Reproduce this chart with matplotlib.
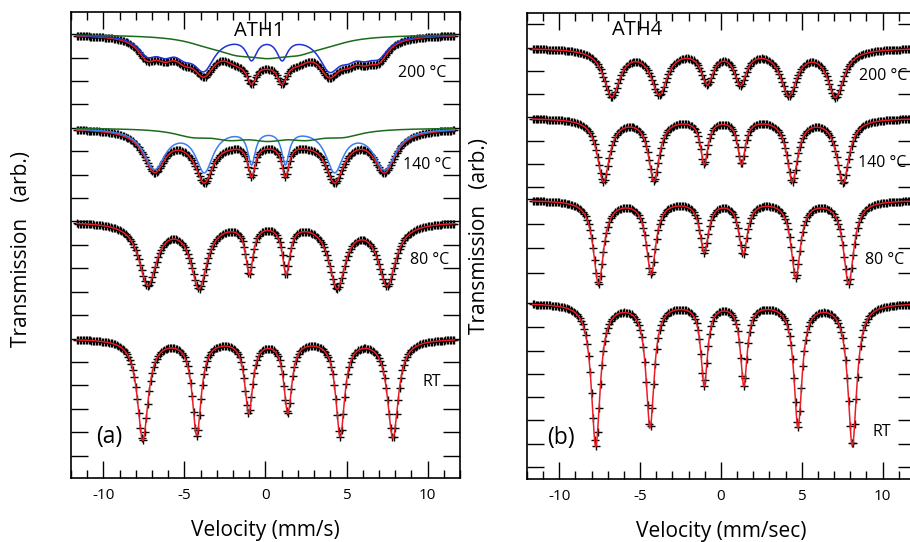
import numpy as np
import matplotlib
matplotlib.use('Agg')
import matplotlib.pyplot as plt
from matplotlib.ticker import MultipleLocator

plt.rcParams['font.family'] = ['Open Sans', 'DejaVu Sans']
plt.rcParams['axes.unicode_minus'] = False

# velocity channels (mm/s) and a finer grid for the fitted curves
vel = np.linspace(-11.65, 11.65, 256)
vel_fit = np.linspace(-11.65, 11.65, 1200)

# ---------------- ATH1 (panel a) ----------------
# 200 C : blue and green sub-spectra, red = total fit
a200_blue_pos = [-7.3, -6.2, -5.0, -3.8, -0.86, 1.03, 3.95, 5.1, 6.1, 7.0]
a200_blue_dep = [0.7, 0.55, 0.55, 1.35, 0.92, 0.92, 1.35, 0.55, 0.55, 0.7]
a200_blue_wid = [0.7, 0.7, 0.7, 0.8, 0.4, 0.4, 0.8, 0.7, 0.7, 0.7]
a200_green_pos = [-3.6, -1.8, 0.1, 2.0, 3.8]
a200_green_dep = [0.22, 0.5, 0.56, 0.5, 0.22]
a200_green_wid = [1.6, 1.6, 1.6, 1.6, 1.6]
a200_red_pos = [-7.3, -6.2, -5.0, -3.8, -1.8, -0.86, 0.1, 1.03, 2.0, 3.95, 5.1, 6.1, 7.0]
a200_red_dep = [0.8, 0.6, 0.6, 1.35, 0.7, 1.1, 0.7, 1.1, 0.7, 1.35, 0.6, 0.6, 0.8]
a200_red_wid = [0.7, 0.7, 0.7, 0.8, 1.0, 0.4, 1.0, 0.4, 1.0, 0.8, 0.7, 0.7, 0.7]

# 140 C : blue sextet + green broad component
a140_blue_pos = [-6.85, -3.77, -0.86, 1.23, 4.26, 7.35]
a140_blue_dep = [1.7, 1.78, 1.41, 1.41, 1.78, 1.72]
a140_blue_wid = [0.8, 0.65, 0.28, 0.28, 0.65, 0.8]
a140_green_pos = [-4.5, -2.2, 0.15, 2.5, 4.8]
a140_green_dep = [0.28, 0.34, 0.36, 0.34, 0.28]
a140_green_wid = [1.4, 1.4, 1.4, 1.4, 1.4]

# 80 C and RT : single sextets
a80_pos = [-7.26, -4.1, -0.99, 1.28, 4.42, 7.5]
a80_dep = [2.64, 2.73, 2.08, 2.08, 2.73, 2.64]
a80_wid = [0.65, 0.6, 0.28, 0.28, 0.6, 0.65]
aRT_pos = [-7.57, -4.24, -1.03, 1.38, 4.61, 7.86]
aRT_dep = [4.3, 4.05, 3.08, 3.08, 4.1, 4.2]
aRT_wid = [0.4, 0.33, 0.3, 0.3, 0.33, 0.4]

# ---------------- ATH4 (panel b) ----------------
b200_pos = [-6.75, -3.81, -0.84, 1.21, 4.2, 7.1]
b200_dep = [2.0, 1.88, 1.39, 1.42, 1.93, 2.02]
b200_wid = [0.6, 0.6, 0.45, 0.45, 0.6, 0.6]
b140_pos = [-7.26, -4.14, -1.03, 1.28, 4.42, 7.55]
b140_dep = [2.68, 2.61, 1.88, 1.88, 2.65, 2.74]
b140_wid = [0.45, 0.4, 0.28, 0.28, 0.4, 0.45]
b80_pos = [-7.57, -4.32, -1.03, 1.38, 4.63, 7.9]
b80_dep = [3.55, 3.1, 2.15, 2.22, 3.25, 3.55]
b80_wid = [0.38, 0.35, 0.32, 0.32, 0.35, 0.38]
bRT_pos = [-7.74, -4.38, -1.03, 1.42, 4.77, 8.13]
bRT_dep = [6.08, 5.24, 3.45, 3.45, 5.24, 6.05]
bRT_wid = [0.33, 0.3, 0.25, 0.25, 0.3, 0.33]

# baselines (offsets of the stacked spectra)
a_base = [0, -4, -8, -13]
b_base = [0, -3.0, -6.5, -10.9]
temps = ['200 °C', '140 °C', '80 °C', 'RT']

a_yticks = list(range(0, -19, -1))
b_yticks = [1.03, 0, -0.97, -1.98, -2.95, -3.96, -4.96, -5.95, -6.47, -7.52,
            -8.56, -9.6, -10.9, -11.92, -12.95, -13.93, -14.91, -15.9, -16.92, -17.91]

RED = '#ec1c24'
GREEN = '#1c6b1c'
BLUE_DARK = '#1e32d8'
BLUE_LIGHT = '#3b7df2'
MS, MEW = 5.2, 1.0


def absorb(v, pos, dep, wid):
    a = np.zeros_like(v)
    for p, d, w in zip(pos, dep, wid):
        a += d * w**2 / ((v - p)**2 + w**2)
    return a


def spectrum(ax, base, pos, dep, wid):
    ax.plot(vel, base - absorb(vel, pos, dep, wid), '+', color='black',
            ms=MS, mew=MEW, zorder=2)
    ax.plot(vel_fit, base - absorb(vel_fit, pos, dep, wid), color=RED,
            lw=1.1, zorder=3)


fig = plt.figure(figsize=(9.1, 5.42), dpi=100)
ax1 = fig.add_axes([0.078, 0.118, 0.4275, 0.86])
ax2 = fig.add_axes([0.579, 0.1162, 0.4264, 0.86])

# panel a
b0 = a_base[0]
ax1.plot(vel, b0 - absorb(vel, a200_red_pos, a200_red_dep, a200_red_wid), '+',
         color='black', ms=MS, mew=MEW, zorder=2)
ax1.plot(vel_fit, b0 - absorb(vel_fit, a200_red_pos, a200_red_dep, a200_red_wid),
         color=RED, lw=1.1, zorder=3)
ax1.plot(vel_fit, b0 - absorb(vel_fit, a200_blue_pos, a200_blue_dep, a200_blue_wid),
         color=BLUE_DARK, lw=1.1, zorder=4)
ax1.plot(vel_fit, b0 - absorb(vel_fit, a200_green_pos, a200_green_dep, a200_green_wid),
         color=GREEN, lw=1.1, zorder=5)

b1 = a_base[1]
blue140 = absorb(vel_fit, a140_blue_pos, a140_blue_dep, a140_blue_wid)
green140 = absorb(vel_fit, a140_green_pos, a140_green_dep, a140_green_wid)
ax1.plot(vel, b1 - absorb(vel, a140_blue_pos, a140_blue_dep, a140_blue_wid)
         - absorb(vel, a140_green_pos, a140_green_dep, a140_green_wid), '+',
         color='black', ms=MS, mew=MEW, zorder=2)
ax1.plot(vel_fit, b1 - blue140 - green140, color=RED, lw=1.1, zorder=3)
ax1.plot(vel_fit, b1 - blue140, color=BLUE_LIGHT, lw=1.1, zorder=4)
ax1.plot(vel_fit, b1 - green140, color=GREEN, lw=1.1, zorder=5)

spectrum(ax1, a_base[2], a80_pos, a80_dep, a80_wid)
spectrum(ax1, a_base[3], aRT_pos, aRT_dep, aRT_wid)

# panel b
spectrum(ax2, b_base[0], b200_pos, b200_dep, b200_wid)
spectrum(ax2, b_base[1], b140_pos, b140_dep, b140_wid)
spectrum(ax2, b_base[2], b80_pos, b80_dep, b80_wid)
spectrum(ax2, b_base[3], bRT_pos, bRT_dep, bRT_wid)

ax1.set_ylim(-18.96, 0.953)
ax2.set_ylim(-18.42, 1.496)
ax1.set_yticks(a_yticks)
ax2.set_yticks(b_yticks)

for ax in (ax1, ax2):
    ax.set_xlim(-12, 12)
    ax.xaxis.set_major_locator(MultipleLocator(5))
    ax.xaxis.set_minor_locator(MultipleLocator(1))
    ax.tick_params(which='both', direction='in', top=True, right=True,
                   width=1.0, labelsize=11, pad=7, labelleft=False)
    ax.tick_params(which='major', length=12)
    ax.tick_params(which='minor', length=6)
    for s in ax.spines.values():
        s.set_linewidth(1.2)

# labels, panel a
ax1.text(-0.37, 0.14, 'ATH1', fontsize=14.5, ha='center', va='center')
a_lab_x = [11.15, 11.46, 11.36, 10.85]
a_lab_y = [-1.66, -5.59, -9.65, -14.85]
for t, x, y in zip(temps, a_lab_x, a_lab_y):
    ax1.text(x, y, t, fontsize=11.5, ha='right', va='center')
ax1.text(-10.45, -17.2, '(a)', fontsize=16.5, ha='left', va='center')
ax1.text(-0.126, 0.491, 'Transmission   (arb.)', rotation=90, fontsize=15,
         ha='center', va='center', transform=ax1.transAxes)
ax1.text(0.499, -0.112, 'Velocity (mm/s)', fontsize=15, ha='center',
         va='center', transform=ax1.transAxes)

# labels, panel b
ax2.text(-5.2, 0.77, 'ATH4', fontsize=14.5, ha='center', va='center')
b_lab_x = [11.54, 11.46, 11.36, 10.55]
b_lab_y = [-1.2, -4.93, -9.06, -16.4]
for t, x, y in zip(temps, b_lab_x, b_lab_y):
    ax2.text(x, y, t, fontsize=11.5, ha='right', va='center')
ax2.text(-10.74, -16.67, '(b)', fontsize=16.5, ha='left', va='center')
ax2.text(-0.121, 0.521, 'Transmission   (arb.)', rotation=90, fontsize=15,
         ha='center', va='center', transform=ax2.transAxes)
ax2.text(0.502, -0.113, 'Velocity (mm/sec)', fontsize=15, ha='center',
         va='center', transform=ax2.transAxes)

fig.savefig('out.png', dpi=100)
